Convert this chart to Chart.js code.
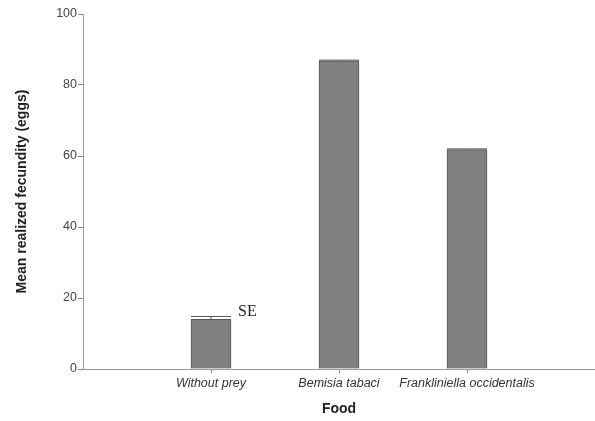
<!DOCTYPE html>
<html>
<head>
<meta charset="utf-8">
<script src="https://cdn.jsdelivr.net/npm/chart.js@4.4.0/dist/chart.umd.min.js"></script>
<style>
  html, body { margin: 0; padding: 0; background: #fff; }
  #wrap { width: 595px; height: 421px; }
</style>
</head>
<body>
<div id="wrap"><canvas id="myChart" width="595" height="421"></canvas></div>
<script>
// data
const foods = ['Without prey', 'Bemisia tabaci', 'Frankliniella occidentalis'];
const meanEggs = [14, 86.8, 61.8];
const seEggs = [0.8, 0.2, 0.2];
const yTicks = [0, 20, 40, 60, 80, 100];

// empty slots at both ends so the bars sit at 1/4, 2/4, 3/4 of the axis
let labels = [''].concat(foods, ['']);
let barData = [null].concat(meanEggs, [null]);
let seData = [null].concat(seEggs, [null]);

const errorBars = {
    id: 'errorBars',
    afterDatasetsDraw(chart) {
        const ctx = chart.ctx;
        const meta = chart.getDatasetMeta(0);
        const yScale = chart.scales.y;
        ctx.save();
        ctx.strokeStyle = '#555';
        ctx.lineWidth = 1;
        meta.data.forEach((bar, i) => {
            if (barData[i] == null) return;
            let top = yScale.getPixelForValue(barData[i] + seData[i]);
            let half = bar.width / 2;
            ctx.beginPath();
            ctx.moveTo(bar.x, bar.y);
            ctx.lineTo(bar.x, top);
            ctx.moveTo(bar.x - half, top);
            ctx.lineTo(bar.x + half, top);
            ctx.stroke();
            if (i === 1) {
                ctx.fillStyle = '#222';
                ctx.font = '16px "Liberation Serif"';
                ctx.textBaseline = 'middle';
                ctx.fillText('SE', bar.x + half + 7, top - 5);
            }
        });
        ctx.restore();
    }
};

let myChart = document.getElementById('myChart').getContext('2d');
let mainChart = new Chart(myChart, {
    type: 'bar',
    data: {
        labels: labels,
        datasets: [{
            label: 'Mean realized fecundity',
            data: barData,
            backgroundColor: '#808080',
            borderColor: '#555555',
            borderWidth: 1,
            barThickness: 40
        }]
    },
    options: {
        responsive: false,
        animation: false,
        layout: { padding: { top: 14, right: 0, left: 0, bottom: 0 } },
        plugins: {
            legend: { display: false },
            tooltip: { enabled: false }
        },
        scales: {
            x: {
                offset: false,
                grid: {
                    offset: false,
                    drawOnChartArea: false,
                    tickLength: 4,
                    color: (c) => (c.index === 0 || c.index === labels.length - 1) ? 'rgba(0,0,0,0)' : '#888'
                },
                border: { color: '#999', width: 1 },
                ticks: {
                    color: '#333',
                    font: { family: 'Liberation Sans', size: 12.5, style: 'italic' },
                    maxRotation: 0,
                    autoSkip: false,
                    padding: 3
                },
                title: {
                    display: true,
                    text: 'Food',
                    color: '#222',
                    font: { family: 'Liberation Sans', size: 14, weight: 'bold' },
                    padding: { top: 0, bottom: 3 }
                },
                afterFit: (scale) => {
                    scale.height = 52;
                    scale.paddingLeft = 0;
                    scale.paddingRight = 0;
                }
            },
            y: {
                min: 0,
                max: 100,
                afterBuildTicks: (scale) => { scale.ticks = yTicks.map(v => ({ value: v })); },
                grid: {
                    drawOnChartArea: false,
                    tickLength: 5,
                    color: '#888'
                },
                border: { color: '#999', width: 1 },
                ticks: {
                    color: '#444',
                    font: { family: 'Liberation Sans', size: 12.5 },
                    padding: 1
                },
                title: {
                    display: true,
                    text: 'Mean realized fecundity (eggs)',
                    color: '#222',
                    font: { family: 'Liberation Sans', size: 14, weight: 'bold' },
                    padding: { top: 14, bottom: 0 }
                },
                afterFit: (scale) => { scale.width = 83; }
            }
        }
    },
    plugins: [errorBars]
});
</script>
</body>
</html>
